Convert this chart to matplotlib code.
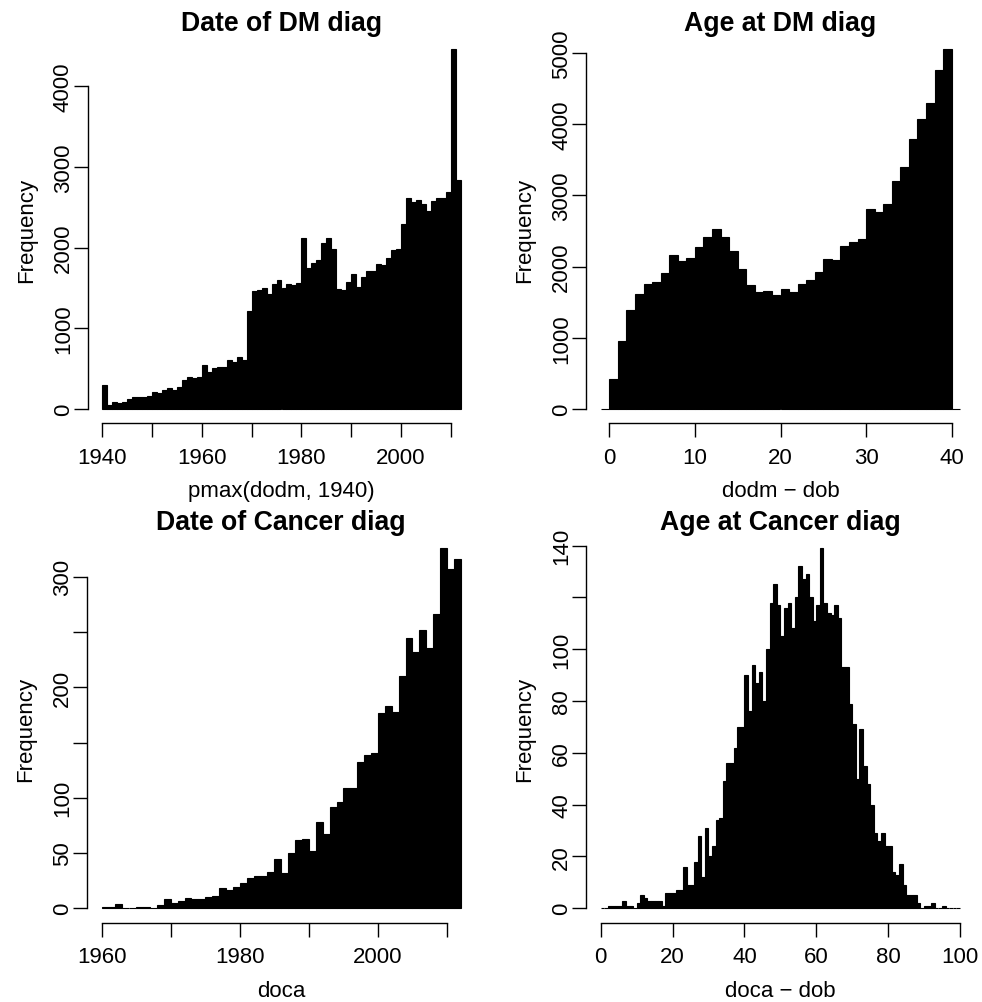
import numpy as np
import matplotlib
matplotlib.use("Agg")
import matplotlib.pyplot as plt

plt.rcParams['font.family'] = ['Liberation Sans', 'DejaVu Sans']

# --- data (counts per 1-year bin) ---
dm_date_start = 1940
dm_date_counts = [302, 54, 83, 70, 83, 128, 145, 145, 145, 165,
                  207, 198, 240, 256, 240, 273, 355, 400, 384, 393,
                  550, 455, 508, 525, 525, 603, 583, 640, 612, 1219,
                  1467, 1479, 1500, 1421, 1550, 1595, 1496, 1550, 1537, 1566,
                  2124, 1744, 1814, 1847, 2058, 2124, 1979, 1483, 1475, 1574,
                  1678, 1517, 1636, 1707, 1707, 1798, 1781, 1872, 1975, 1988,
                  2289, 2612, 2562, 2587, 2537, 2459, 2574, 2616, 2616, 2686,
                  4463, 2835]

dm_age_start = -1
dm_age_counts = [0, 417, 960, 1395, 1610, 1760, 1788, 1915, 2163, 2074, 2125,
                 2271, 2411, 2528, 2411, 2214, 1971, 1742, 1639, 1657, 1606,
                 1681, 1639, 1751, 1807, 1924, 2102, 2088, 2294, 2345, 2388,
                 2804, 2762, 2874, 3202, 3394, 3787, 4078, 4298, 4757, 5056,
                 0]

ca_date_start = 1960
ca_date_counts = [1, 1, 4, 0, 0, 1, 1, 0, 3, 8,
                  5, 7, 9, 8, 8, 10, 11, 18, 17, 19,
                  23, 27, 29, 29, 33, 45, 32, 50, 62, 63,
                  52, 78, 67, 92, 96, 109, 109, 132, 139, 141,
                  177, 183, 178, 210, 245, 232, 252, 236, 266, 326,
                  307, 316]

ca_age_start = 0
ca_age_counts = [0, 0, 1, 1, 1, 1, 3, 1, 1, 0,
                 2, 5, 4, 3, 3, 3, 3, 1, 6, 6,
                 6, 7, 7, 16, 9, 9, 18, 28, 12, 31,
                 20, 24, 34, 35, 49, 56, 56, 62, 70, 70,
                 90, 76, 94, 87, 91, 80, 100, 118, 125, 117,
                 105, 116, 118, 108, 120, 132, 127, 129, 120, 111,
                 117, 139, 118, 114, 113, 117, 112, 93, 93, 79,
                 71, 50, 69, 55, 48, 40, 29, 26, 29, 24,
                 24, 14, 13, 17, 9, 5, 5, 5, 2, 0,
                 1, 1, 2, 0, 0, 1, 0, 0, 0, 0]

panels = [
    dict(title="Date of DM diag", xlabel="pmax(dodm, 1940)",
         start=dm_date_start, counts=dm_date_counts,
         xticks=[1940, 1950, 1960, 1970, 1980, 1990, 2000, 2010],
         xlabels=["1940", "", "1960", "", "1980", "", "2000", ""],
         yticks=[0, 1000, 2000, 3000, 4000],
         ylabels=["0", "1000", "2000", "3000", "4000"]),
    dict(title="Age at DM diag", xlabel="dodm \u2212 dob",
         start=dm_age_start, counts=dm_age_counts,
         xticks=[0, 10, 20, 30, 40],
         xlabels=["0", "10", "20", "30", "40"],
         yticks=[0, 1000, 2000, 3000, 4000, 5000],
         ylabels=["0", "1000", "2000", "3000", "4000", "5000"]),
    dict(title="Date of Cancer diag", xlabel="doca",
         start=ca_date_start, counts=ca_date_counts,
         xticks=[1960, 1970, 1980, 1990, 2000, 2010],
         xlabels=["1960", "", "1980", "", "2000", ""],
         yticks=[0, 50, 100, 150, 200, 250, 300],
         ylabels=["0", "50", "100", "", "200", "", "300"]),
    dict(title="Age at Cancer diag", xlabel="doca \u2212 dob",
         start=ca_age_start, counts=ca_age_counts,
         xticks=[0, 20, 40, 60, 80, 100],
         xlabels=["0", "20", "40", "60", "80", "100"],
         yticks=[0, 20, 40, 60, 80, 100, 120, 140],
         ylabels=["0", "20", "40", "60", "80", "100", "", "140"]),
]

W, H = 982, 1003
fig = plt.figure(figsize=(W / 100, H / 100), dpi=100)

# plot regions in pixels (left, top, right, bottom)
boxes = [(88, 35.6, 475, 424.4), (586.4, 35.6, 974.6, 424.4),
         (87.3, 534.7, 475.2, 923.7), (586.3, 534.7, 974.4, 923.7)]

for p, (l, t, r, b) in zip(panels, boxes):
    ax = fig.add_axes([l / W, 1 - b / H, (r - l) / W, (b - t) / H])
    counts = np.array(p["counts"])
    edges = p["start"] + np.arange(len(counts) + 1)
    ax.bar(edges[:-1], counts, width=1, align="edge", color="black",
           edgecolor="black", linewidth=0.8)

    lo, hi = edges[0], edges[-1]
    pad = 0.04 * (hi - lo)
    ax.set_xlim(lo - pad, hi + pad)
    ymax = counts.max()
    ax.set_ylim(-0.04 * ymax, 1.04 * ymax)

    for s in ["top", "right"]:
        ax.spines[s].set_visible(False)
    ax.spines["bottom"].set_bounds(p["xticks"][0], p["xticks"][-1])
    ax.spines["left"].set_bounds(p["yticks"][0], p["yticks"][-1])
    for s in ["bottom", "left"]:
        ax.spines[s].set_linewidth(1.0)

    ax.set_xticks(p["xticks"])
    ax.set_xticklabels(p["xlabels"], fontsize=16, va="baseline")
    ax.set_yticks(p["yticks"])
    ax.set_yticklabels(p["ylabels"], fontsize=16, rotation=90,
                       rotation_mode="anchor", ha="center", va="baseline")
    ax.tick_params(axis="both", direction="out", length=10, width=1.0)
    ax.tick_params(axis="x", pad=18.2)
    ax.tick_params(axis="y", pad=3.7)

    ph = b - t
    pw = r - l
    ax.set_xlabel(p["xlabel"], fontsize=16, va="baseline")
    ax.xaxis.set_label_coords(0.5, -73 / ph)
    ax.set_ylabel("Frequency", fontsize=16, rotation=90,
                  rotation_mode="anchor", ha="center", va="baseline")
    ax.yaxis.set_label_coords(-56 / pw, 0.5)

    ax.text(0.5, 1 + 4.5 / ph, p["title"], transform=ax.transAxes,
            ha="center", va="baseline", fontsize=19.2, fontweight="bold")

fig.savefig("out.png", dpi=100)
